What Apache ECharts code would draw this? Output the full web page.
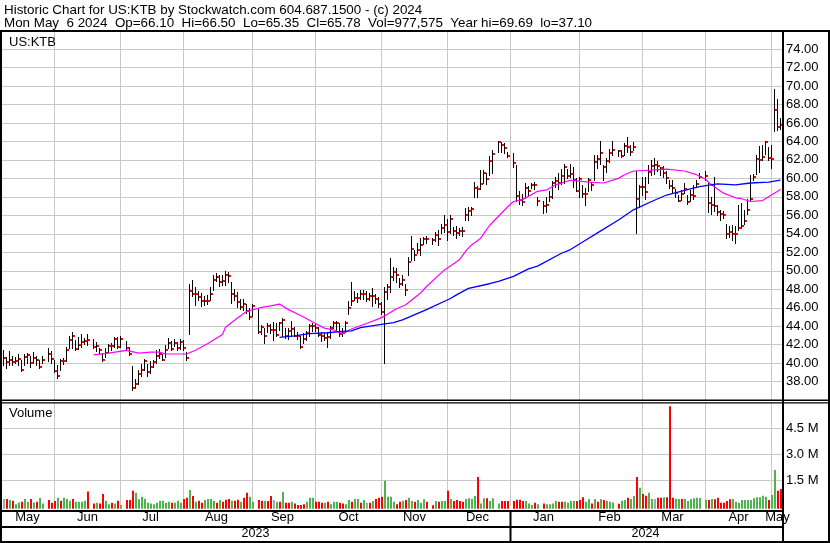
<!DOCTYPE html>
<html><head><meta charset="utf-8">
<script src="https://cdn.jsdelivr.net/npm/echarts/dist/echarts.min.js"></script>
<style>html,body{margin:0;padding:0;background:#fff}#c{width:830px;height:543px}</style>
</head><body><div id="c"></div>
<script>
// ---------- calendar ----------
const FIRST_SESSION = '2023-05-09';
const LAST_SESSION = '2024-05-06';
const HOLIDAYS = ['2023-05-29','2023-06-19','2023-07-04','2023-09-04','2023-11-23','2023-12-25','2024-01-01','2024-01-15','2024-02-19','2024-03-29'];
const MONTH_NAMES = ['Jan','Feb','Mar','Apr','May','Jun','Jul','Aug','Sep','Oct','Nov','Dec'];

// ---------- price data (one slot per weekday, null = market holiday) ----------
const HIGH = [
41.4,40.7,41.3,40.8,40.7,41.0,40.3,41.0,41.1,40.8,
41.2,40.8,40.4,40.8,null,41.6,41.3,40.3,39.8,40.5,
40.6,41.8,42.9,43.4,42.5,42.8,43.2,42.7,43.2,null,
42.6,42.3,41.7,41.1,41.6,42.1,42.2,42.8,42.8,42.9,
null,42.4,41.8,39.7,38.3,39.3,39.9,40.5,39.9,40.2,
40.4,41.4,41.5,41.0,42.0,42.7,42.4,42.6,42.3,42.6,
42.5,41.2,48.6,49.0,48.3,47.8,47.6,47.3,47.4,48.3,
49.5,49.8,49.6,49.6,50.0,49.9,48.8,48.0,47.7,47.0,
47.0,46.4,46.0,46.4,null,45.9,44.1,43.8,44.3,44.2,
44.5,44.3,44.5,44.9,43.8,43.8,44.6,43.9,43.4,43.0,
43.3,43.5,44.2,44.3,44.4,43.9,43.4,43.3,43.4,44.0,
44.6,44.6,44.3,43.8,44.6,46.7,48.8,47.8,47.6,47.9,
47.9,47.8,47.6,48.1,47.5,47.2,46.6,48.2,48.6,51.4,
50.4,50.3,49.2,49.5,48.6,51.5,53.8,52.3,53.0,53.5,
53.7,53.8,null,53.6,54.2,54.4,55.1,56.0,55.6,56.0,
54.7,54.8,54.6,54.7,56.8,56.9,56.9,59.6,59.2,60.9,
60.9,60.6,62.4,63.1,null,64.0,63.9,63.8,62.9,null,
62.7,61.5,58.6,58.3,59.5,59.2,59.5,59.6,58.0,null,
57.6,58.0,58.6,59.7,60.2,60.6,61.0,61.6,61.0,61.6,
61.2,60.0,60.2,59.3,59.0,60.0,59.6,62.5,62.5,64.0,
61.4,62.2,63.2,64.0,null,63.1,63.1,63.8,64.5,63.6,
63.9,60.8,59.3,60.2,60.2,61.4,62.0,62.2,61.9,61.2,
61.3,60.8,59.8,59.8,58.8,58.2,58.7,59.5,58.2,58.7,
59.3,59.8,60.6,null,60.8,59.5,58.0,60.2,57.1,56.6,
56.5,55.1,54.8,55.0,54.8,57.1,57.3,56.6,57.8,60.4,
60.5,62.5,63.5,63.6,64.0,63.4,63.6,69.69,68.6,66.50];
const LOW = [
39.8,39.5,39.8,39.8,40.0,39.8,39.2,39.8,40.0,39.6,
40.0,39.8,39.5,40.0,null,40.2,40.0,39.0,38.4,39.3,
39.9,40.2,41.6,41.6,41.4,41.5,41.8,42.1,42.0,null,
41.6,41.3,41.1,40.2,40.7,41.2,41.4,41.8,41.6,41.8,
null,41.4,40.9,37.1,37.3,37.8,38.6,39.3,38.6,38.9,
39.6,40.0,40.6,40.3,40.7,41.6,41.4,41.9,41.4,41.5,
41.4,40.3,43.2,47.3,46.3,46.8,46.2,46.3,46.4,46.8,
47.9,48.9,48.4,48.5,48.5,48.8,46.5,46.8,46.1,45.9,
45.8,45.4,44.8,45.1,null,43.3,43.2,42.2,43.4,43.3,
42.5,42.9,43.6,42.9,42.7,42.6,42.9,42.9,42.6,41.6,
42.2,42.5,42.9,43.5,43.5,42.9,42.4,42.5,41.8,42.7,
43.8,43.6,43.0,42.9,43.4,45.3,46.3,46.8,46.6,46.9,
46.9,46.7,46.8,46.2,46.5,46.1,45.3,40.0,47.0,47.7,
49.0,48.8,48.3,48.5,47.4,49.5,51.2,51.2,51.9,51.7,
52.9,53.0,null,52.9,53.2,52.8,54.1,54.2,53.3,54.1,
53.9,53.5,53.9,53.8,55.5,55.5,56.0,58.0,58.0,58.9,
59.5,59.4,60.4,60.6,null,62.9,62.9,62.7,62.3,null,
61.2,57.6,57.2,57.1,57.9,58.2,59.0,58.8,57.1,null,
56.3,56.4,57.6,57.9,59.1,58.9,59.4,59.5,60.0,60.2,
59.1,58.6,58.0,58.0,57.1,58.6,58.7,59.8,61.1,61.6,
59.8,60.7,61.8,62.5,null,62.4,62.3,62.5,62.9,62.5,
63.1,54.1,56.9,58.2,57.8,59.5,60.4,60.5,60.8,60.4,
60.2,59.5,59.0,58.4,58.0,57.5,57.7,58.4,57.2,57.5,
57.8,59.1,60.0,null,59.8,56.4,56.2,56.5,56.0,55.5,
55.7,53.5,53.7,53.3,53.0,54.4,54.6,55.1,56.2,57.6,
59.8,60.5,60.7,62.0,62.6,62.0,61.1,65.1,65.2,65.35];
const CLOSE = [
40.6,40.1,40.4,40.1,40.2,40.5,39.3,40.7,40.9,40.0,
40.6,40.3,39.6,40.3,null,41.0,40.5,39.2,38.6,40.2,
40.2,41.4,42.5,42.9,41.5,42.0,42.3,42.4,42.5,null,
41.8,41.9,41.4,40.4,41.1,41.9,41.9,42.6,41.8,42.6,
null,41.6,41.0,37.3,37.8,38.8,39.3,40.2,39.1,39.6,
40.1,40.8,41.0,40.4,41.4,42.2,41.5,42.2,41.6,42.3,
41.6,40.6,47.8,47.5,47.5,47.2,46.7,46.7,46.7,47.5,
49.0,49.3,48.8,48.9,49.5,49.4,47.5,47.3,46.6,46.1,
46.4,45.7,45.0,46.2,null,43.4,43.9,43.0,44.0,43.6,
43.6,43.1,44.3,44.7,42.9,43.5,43.7,43.0,42.9,41.8,
42.6,43.3,44.0,44.0,43.8,43.1,42.9,42.7,42.8,43.8,
44.4,44.3,43.2,43.3,44.4,46.0,46.7,47.1,47.1,47.5,
47.5,47.0,47.3,47.3,47.0,46.4,45.5,47.7,48.3,49.3,
49.9,49.6,48.6,49.0,47.9,50.9,52.4,51.7,52.3,52.8,
53.4,53.4,null,53.3,53.9,53.4,54.6,55.0,54.2,55.6,
54.3,54.1,54.3,54.3,56.0,56.5,56.7,59.0,58.8,59.4,
60.6,59.9,61.9,62.6,null,63.9,63.6,63.3,62.4,null,
61.7,58.1,57.7,57.4,59.0,58.6,59.3,59.3,57.6,null,
57.0,57.1,58.0,59.5,59.7,59.5,60.3,61.2,60.3,60.5,
59.8,58.6,59.9,58.3,58.3,59.8,59.3,61.8,62.1,62.8,
61.2,61.9,62.8,63.1,null,63.0,62.4,63.5,63.4,62.9,
63.4,57.8,59.1,59.1,58.5,60.7,61.3,61.5,61.3,61.1,
60.6,60.0,59.2,59.0,58.4,57.6,58.3,58.9,57.4,58.2,
58.1,59.4,60.2,null,60.3,57.3,57.1,57.0,56.4,56.1,
56.0,54.0,54.2,54.0,54.0,54.6,54.9,55.4,56.6,57.8,
60.2,62.1,62.0,62.3,63.9,62.2,62.1,67.4,65.6,65.78];

// ---------- volume (millions) and bar colour (1 up, -1 down, 0 unchanged) ----------
const VOLUME = [
0.40,0.40,0.34,0.30,0.09,0.20,0.24,0.40,0.24,0.40,
0.20,0.24,0.46,0.14,null,0.34,0.18,0.28,0.48,0.30,
0.48,0.40,0.30,0.40,0.24,0.24,0.24,0.30,0.83,null,
0.14,0.18,0.14,0.69,0.30,0.09,0.18,0.14,0.30,0.05,
null,0.34,0.34,0.88,0.77,0.38,0.53,0.40,0.18,0.14,
0.09,0.18,0.30,0.30,0.18,0.24,0.18,0.18,0.30,0.18,
0.40,0.48,0.92,0.57,0.24,0.30,0.18,0.34,0.40,0.40,
0.30,0.18,0.34,0.24,0.36,0.40,0.30,0.30,0.36,0.24,
0.48,0.77,0.53,0.24,null,0.34,0.30,0.30,0.28,0.57,
0.34,0.24,0.24,0.81,0.18,0.18,0.24,0.14,0.05,0.05,
0.09,0.24,0.48,0.48,0.24,0.24,0.18,0.18,0.24,0.09,
0.24,0.24,0.18,0.14,0.09,0.34,0.24,0.40,0.40,0.18,
0.34,0.18,0.18,0.28,0.40,0.48,0.53,1.46,0.53,0.53,
0.24,0.09,0.24,0.30,0.34,0.48,0.28,0.24,0.34,0.18,
0.38,0.24,null,0.04,0.28,0.24,0.28,0.28,0.88,0.40,
0.28,0.34,0.28,0.24,0.40,0.44,0.40,0.57,1.68,0.14,
0.44,0.44,0.28,0.44,null,0.14,0.28,0.28,0.28,null,
0.28,0.36,0.36,0.28,0.28,0.14,0.05,0.18,0.09,null,
0.14,0.09,0.09,0.14,0.28,0.24,0.24,0.24,0.18,0.28,
0.28,0.28,0.34,0.50,0.24,0.40,0.14,0.40,0.24,0.40,
0.34,0.30,0.24,0.20,null,0.12,0.30,0.34,0.48,0.40,
0.57,1.68,1.06,0.69,0.59,0.77,0.40,0.40,0.48,0.48,
0.50,0.50,5.78,0.48,0.40,0.40,0.40,0.40,0.28,0.40,
0.44,0.48,0.46,null,0.34,0.34,0.40,0.38,0.48,0.18,
0.18,0.28,0.38,0.40,0.24,0.18,0.34,0.34,0.34,0.34,
0.44,0.50,0.50,0.59,0.53,0.34,0.63,2.09,0.88,0.977575];
const VOL_DIR = [
0,-1,1,-1,1,1,-1,1,1,-1,
1,-1,1,1,null,-1,-1,-1,1,-1,
1,1,1,-1,1,1,1,1,-1,null,
-1,1,-1,-1,1,1,-1,1,-1,1,
null,-1,-1,-1,1,1,1,1,1,1,
1,1,1,1,1,1,-1,1,1,1,
-1,-1,1,-1,1,-1,-1,1,1,1,
1,-1,1,-1,-1,-1,1,-1,-1,1,
-1,-1,1,1,null,-1,-1,1,-1,-1,
0,1,-1,1,-1,-1,1,-1,-1,-1,
-1,1,1,1,-1,-1,-1,1,-1,1,
1,1,-1,-1,1,1,-1,1,1,-1,
1,0,-1,1,-1,-1,-1,1,1,1,
1,-1,-1,1,-1,1,1,-1,1,1,
1,-1,null,-1,1,-1,1,1,-1,1,
-1,-1,-1,-1,1,1,1,1,-1,1,
1,-1,1,1,null,1,-1,-1,-1,null,
-1,-1,-1,-1,1,1,1,-1,1,null,
-1,1,1,1,1,-1,-1,1,1,1,
1,-1,-1,-1,1,1,-1,1,-1,1,
-1,1,1,1,null,-1,1,1,-1,1,
1,-1,1,-1,-1,1,1,0,-1,-1,
1,-1,-1,-1,1,1,-1,1,1,1,
1,1,1,null,1,-1,1,-1,-1,-1,
-1,-1,-1,1,1,1,1,1,1,1,
1,1,1,1,1,-1,1,1,-1,-1];

// ---------- moving averages: [slot, value] ----------
const MA_PINK = [[30,40.9],[35,41.1],[41,41.4],[45,41.1],[49,41.2],[52,41.2],[54,41.0],[61,41.0],[64,41.4],[68,42.1],[73,43.1],[74,43.9],[78,44.9],[81,45.6],[86,46.05],[89,46.2],[92,46.4],[95,45.8],[100,45.0],[104,44.3],[107,43.8],[110,43.6],[113,43.2],[116,43.7],[121,44.3],[125,44.8],[127,45.1],[131,45.9],[134,46.3],[139,47.6],[141,48.3],[147,50.1],[152,51.2],[154,52.1],[156,52.8],[159,53.5],[162,54.9],[165,55.9],[168,56.9],[170,57.5],[173,57.7],[178,58.6],[181,58.75],[184,59.3],[189,59.8],[195,59.6],[200,59.5],[205,60.0],[207,60.4],[210,60.8],[216,60.9],[221,61.0],[227,60.8],[231,60.4],[234,59.9],[236,59.3],[240,58.4],[244,57.9],[246,57.8],[249,57.5],[253,57.6],[256,58.2],[259,58.8]];
const MA_BLUE = [[92,42.8],[97,42.95],[102,43.2],[108,43.3],[113,43.45],[116,43.5],[119,43.85],[126,44.2],[130,44.4],[133,44.7],[141,45.8],[149,47.0],[151,47.4],[155,48.1],[162,48.6],[165,48.85],[170,49.4],[175,50.2],[178,50.5],[186,51.9],[189,52.3],[194,53.3],[198,54.1],[205,55.5],[210,56.6],[216,57.5],[221,58.2],[227,58.7],[232,59.1],[238,59.4],[244,59.3],[249,59.5],[255,59.6],[259,59.8]];

// ---------- axis settings ----------
const PRICE_MIN = 36, PRICE_MAX = 76, PRICE_STEP = 2;
const VOL_MIN = 0, VOL_MAX = 6, VOL_STEP = 1.5, VOL_FLOOR = -0.17;

const HEADER_1 = 'Historic Chart for US:KTB by Stockwatch.com 604.687.1500 - (c) 2024';
const HEADER_2 = 'Mon May  6 2024  Op=66.10  Hi=66.50  Lo=65.35  Cl=65.78  Vol=977,575  Year hi=69.69  lo=37.10';

const FONT = '"Liberation Sans", Arial, Helvetica, sans-serif';
const GRID_GRAY = '#c8c8c8';
const UP_GREEN = '#4fb34f', DOWN_RED = '#ff0000', FLAT_GRAY = '#a8a8a8';

// ---------- derived layout ----------
function buildSessions() {
  const out = [];
  const d = new Date(FIRST_SESSION + 'T00:00:00Z');
  const end = new Date(LAST_SESSION + 'T00:00:00Z');
  while (d <= end) {
    const wd = d.getUTCDay();
    if (wd !== 0 && wd !== 6) out.push(d.toISOString().slice(0, 10));
    d.setUTCDate(d.getUTCDate() + 1);
  }
  return out;
}
const DATES = buildSessions();

const monthStarts = [], monthMid = {}, yearMid = {};
let firstOfYear2 = 0;
(function () {
  let s = 0;
  for (let i = 1; i <= DATES.length; i++) {
    if (i === DATES.length || DATES[i].slice(0, 7) !== DATES[s].slice(0, 7)) {
      monthMid[Math.round((s + i - 1) / 2)] = MONTH_NAMES[+DATES[s].slice(5, 7) - 1];
      if (s > 0) monthStarts.push(s);
      s = i;
    }
  }
  s = 0;
  for (let i = 1; i <= DATES.length; i++) {
    if (i === DATES.length || DATES[i].slice(0, 4) !== DATES[s].slice(0, 4)) {
      yearMid[Math.round((s + i - 1) / 2)] = DATES[s].slice(0, 4);
      if (s > 0) firstOfYear2 = s;
      s = i;
    }
  }
})();

const OHLC_ROWS = [];
CLOSE.forEach((c, i) => { if (c != null) OHLC_ROWS.push([i, HIGH[i], LOW[i], c]); });
const VOL_ROWS = [];
VOLUME.forEach((v, i) => { if (v != null) VOL_ROWS.push([i, v, VOL_DIR[i]]); });

function monthLine(params, api) {
  const p = api.coord([api.value(0), api.value(1)]);
  const cs = params.coordSys;
  const x = Math.floor(p[0]) + 0.5;
  return { type: 'line', shape: { x1: x, y1: cs.y, x2: x, y2: cs.y + cs.height },
    style: { stroke: GRID_GRAY, lineWidth: 1 } };
}
function ohlcBar(params, api) {
  const i = api.value(0);
  const hi = api.coord([i, api.value(1)]);
  const lo = api.coord([i, api.value(2)]);
  const cl = api.coord([i, api.value(3)]);
  const x = Math.floor(hi[0]) + 0.5;
  return { type: 'group', children: [
    { type: 'line', shape: { x1: x, y1: Math.round(hi[1]), x2: x, y2: Math.round(lo[1]) + 1 },
      style: { stroke: '#000', lineWidth: 1 } },
    { type: 'rect', shape: { x: x + 0.5, y: Math.round(cl[1]) - 1, width: 2, height: 2 },
      style: { fill: '#ff0000' } }
  ] };
}
function volumeBar(params, api) {
  const i = api.value(0);
  const top = api.coord([i, api.value(1)]);
  const base = api.coord([i, VOL_FLOOR]);
  const d = api.value(2);
  const x = Math.floor(top[0]);
  return { type: 'rect', shape: { x: x, y: top[1], width: 2, height: base[1] - top[1] },
    style: { fill: d > 0 ? UP_GREEN : (d < 0 ? DOWN_RED : FLAT_GRAY) } };
}

const chart = echarts.init(document.getElementById('c'), null, { renderer: 'canvas', width: 830, height: 543 });
const labelStyle = { color: '#000', fontSize: 13, fontFamily: FONT };

chart.setOption({
  animation: false,
  backgroundColor: '#fff',
  grid: [
    { left: 2, right: 48, top: 30.5, height: 369.7, containLabel: false, outerBoundsMode: 'none' },
    { left: 2, right: 48, top: 402.5, height: 103.4, containLabel: false, outerBoundsMode: 'none' }
  ],
  xAxis: [
    { type: 'category', gridIndex: 0, data: DATES, boundaryGap: true,
      axisLine: { show: false }, axisTick: { show: false }, axisLabel: { show: false }, splitLine: { show: false } },
    { type: 'category', gridIndex: 1, data: DATES, boundaryGap: true, position: 'bottom',
      axisLine: { show: false }, axisTick: { show: false }, splitLine: { show: false },
      axisLabel: Object.assign({ interval: (i) => monthMid[i] !== undefined, formatter: (v, i) => monthMid[i] || '', margin: 5 }, labelStyle) },
    { type: 'category', gridIndex: 1, data: DATES, boundaryGap: true, position: 'bottom', offset: 16.5,
      axisLine: { show: false }, axisTick: { show: false }, splitLine: { show: false },
      axisLabel: { interval: (i) => yearMid[i] !== undefined, formatter: (v, i) => yearMid[i] || '', margin: 5,
        color: '#000', fontSize: 12.5, fontFamily: FONT } }
  ],
  yAxis: [
    { type: 'value', gridIndex: 0, position: 'right', min: PRICE_MIN, max: PRICE_MAX, interval: PRICE_STEP,
      axisLine: { show: false }, axisTick: { show: false },
      axisLabel: Object.assign({ showMinLabel: false, showMaxLabel: false, margin: 4, formatter: (v) => v.toFixed(2) }, labelStyle),
      splitLine: { show: true, lineStyle: { color: GRID_GRAY, width: 1 } } },
    { type: 'value', gridIndex: 1, position: 'right', min: VOL_MIN, max: VOL_MAX, interval: VOL_STEP,
      axisLine: { show: false }, axisTick: { show: false },
      axisLabel: Object.assign({ showMinLabel: false, showMaxLabel: false, margin: 4, formatter: (v) => v.toFixed(1) + ' M' }, labelStyle),
      splitLine: { show: true, lineStyle: { color: ['rgba(0,0,0,0)', GRID_GRAY, GRID_GRAY, GRID_GRAY, 'rgba(0,0,0,0)'], width: 1 } } }
  ],
  series: [
    { type: 'custom', name: 'months-price', xAxisIndex: 0, yAxisIndex: 0, silent: true, z: 1,
      renderItem: monthLine, data: monthStarts.map(i => [i, 50]), encode: { x: 0, y: 1 } },
    { type: 'custom', name: 'months-volume', xAxisIndex: 1, yAxisIndex: 1, silent: true, z: 1,
      renderItem: monthLine, data: monthStarts.map(i => [i, 1]), encode: { x: 0, y: 1 } },
    { type: 'custom', name: 'US:KTB', xAxisIndex: 0, yAxisIndex: 0, silent: true, z: 2,
      renderItem: ohlcBar, data: OHLC_ROWS, encode: { x: 0, y: [1, 2, 3] } },
    { type: 'line', name: 'MA short', xAxisIndex: 0, yAxisIndex: 0, data: MA_PINK, silent: true, z: 3,
      symbol: 'none', lineStyle: { color: '#ff00ff', width: 1.2 } },
    { type: 'line', name: 'MA long', xAxisIndex: 0, yAxisIndex: 0, data: MA_BLUE, silent: true, z: 3,
      symbol: 'none', lineStyle: { color: '#0000ff', width: 1.3 } },
    { type: 'custom', name: 'Volume', xAxisIndex: 1, yAxisIndex: 1, silent: true, z: 2,
      renderItem: volumeBar, data: VOL_ROWS, encode: { x: 0, y: 1 } }
  ]
});

// frame, header and panel captions
const yearDividerX = Math.floor(chart.convertToPixel({ xAxisIndex: 1 }, firstOfYear2)) - 0.5;
const black = { fill: '#000' };
function box(x, y, w, h) { return { type: 'rect', shape: { x: x, y: y, width: w, height: h }, style: black, z: 100, silent: true }; }
function text(x, y, t, size) {
  return { type: 'text', x: x, y: y, z: 100, silent: true,
    style: { text: t, font: size + 'px ' + FONT, fill: '#000', verticalAlign: 'middle', textVerticalAlign: 'middle' } };
}
chart.setOption({
  graphic: [
    text(4, 10, HEADER_1, 13.4),
    text(4, 23.5, HEADER_2, 13.4),
    text(9, 42, 'US:KTB', 13),
    text(9, 413, 'Volume', 13),
    box(0, 30, 830, 2),
    box(0, 30, 2, 513),
    box(782, 30, 2, 513),
    box(828, 30, 2, 513),
    box(0, 399.6, 830, 1.3),
    box(0, 402.2, 830, 1.3),
    box(0, 510, 784, 2),
    box(0, 526, 784, 2),
    box(0, 541, 830, 2),
    box(yearDividerX, 510, 2, 33)
  ]
});
</script>
</body></html>
